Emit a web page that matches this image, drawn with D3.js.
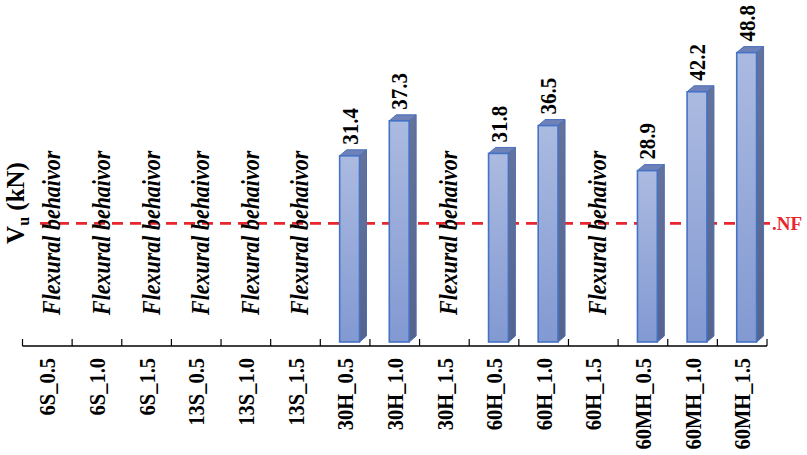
<!DOCTYPE html>
<html>
<head>
<meta charset="utf-8">
<script src="https://cdn.jsdelivr.net/npm/d3@7/dist/d3.min.js"></script>
<style>
  html, body { margin: 0; padding: 0; background: #fff; }
  svg { display: block; }
  text { font-family: "Liberation Serif", "Times New Roman", serif; font-weight: bold; }
</style>
</head>
<body>
<svg id="chart" width="807" height="455"></svg>
<script>
// Specimens on the x axis
const categories = ["6S_0.5", "6S_1.0", "6S_1.5", "13S_0.5", "13S_1.0", "13S_1.5",
  "30H_0.5", "30H_1.0", "30H_1.5", "60H_0.5", "60H_1.0", "60H_1.5",
  "60MH_0.5", "60MH_1.0", "60MH_1.5"];
// Ultimate shear Vu (kN); null = flexural behaviour (no shear failure)
const values = [null, null, null, null, null, null,
  31.4, 37.3, null, 31.8, 36.5, null,
  28.9, 42.2, 48.8];
// Nominal flexural capacity reference line
const nfValue = 20;
const nfLabel = ".NF";
const flexLabel = "Flexural behaivor";

const svg = d3.select("#chart");

const x = d3.scaleBand().domain(categories).range([22.5, 767]).padding(0);
const y = d3.scaleLinear().domain([0, 50]).range([342, 45.5]);
const bw = x.bandwidth();

const defs = svg.append("defs");
const gFront = defs.append("linearGradient").attr("id", "front")
  .attr("x1", 0).attr("y1", 0).attr("x2", 0).attr("y2", 1);
gFront.append("stop").attr("offset", "0%").attr("stop-color", "#abbae0");
gFront.append("stop").attr("offset", "100%").attr("stop-color", "#8299d2");
const gSide = defs.append("linearGradient").attr("id", "side")
  .attr("x1", 0).attr("y1", 0).attr("x2", 0).attr("y2", 1);
gSide.append("stop").attr("offset", "0%").attr("stop-color", "#65739a");
gSide.append("stop").attr("offset", "100%").attr("stop-color", "#56648c");

// 3D bar geometry relative to each band
const frontOff = bw * 0.39, frontW = bw * 0.40, depthX = 7, depthY = 6;
// rotated labels use slightly taller glyphs
const stretch = "scale(1,1.1)";

const data = categories.map((c, i) => ({ c, v: values[i] }));
const bars = data.filter(d => d.v !== null);

// NF dashed reference line (drawn behind bars)
svg.append("line")
  .attr("x1", 40).attr("x2", 770)
  .attr("y1", y(nfValue)).attr("y2", y(nfValue))
  .attr("stroke", "#e8262e").attr("stroke-width", 2.6)
  .attr("stroke-dasharray", "11,7");

const bg = svg.append("g");
bars.forEach(d => {
  const x0 = x(d.c) + frontOff, x1 = x0 + frontW;
  const yt = y(d.v), yb = y(0);
  // side face
  bg.append("path")
    .attr("d", `M${x1},${yt} L${x1 + depthX},${yt - depthY} L${x1 + depthX},${yb - depthY} L${x1},${yb} Z`)
    .attr("fill", "url(#side)").attr("stroke", "#4a6fb8").attr("stroke-width", 1);
  // top face
  bg.append("path")
    .attr("d", `M${x0},${yt} L${x0 + depthX},${yt - depthY} L${x1 + depthX},${yt - depthY} L${x1},${yt} Z`)
    .attr("fill", "#6e82b9").attr("stroke", "#4a6fb8").attr("stroke-width", 1);
  // front face
  bg.append("rect")
    .attr("x", x0).attr("y", yt).attr("width", frontW).attr("height", yb - yt)
    .attr("fill", "url(#front)").attr("stroke", "#4472c4").attr("stroke-width", 1.6);
  // value label
  svg.append("text")
    .attr("transform", `translate(${x0 + frontW / 2},${yt - 11}) rotate(-90) ${stretch}`)
    .attr("dy", "0.35em")
    .attr("font-size", 21)
    .attr("fill", "#000")
    .text(d.v.toFixed(1));
});

// Flexural behaviour notes
data.filter(d => d.v === null).forEach(d => {
  svg.append("text")
    .attr("transform", `translate(${x(d.c) + bw * 0.6},315) rotate(-90) ${stretch}`)
    .attr("dy", "0.33em")
    .attr("font-size", 22)
    .attr("font-style", "italic")
    .attr("fill", "#000")
    .text(flexLabel);
});

// x axis with ticks pointing up
const axisY = 346;
const axis = svg.append("g").attr("transform", `translate(0,${axisY})`);
axis.append("line").attr("x1", 22.5).attr("x2", 767).attr("y1", 0).attr("y2", 0)
  .attr("stroke", "#000").attr("stroke-width", 1.4);
const edges = categories.map(c => x(c)).concat([x.range()[1]]);
axis.selectAll("line.tick").data(edges).join("line").attr("class", "tick")
  .attr("x1", d => d).attr("x2", d => d).attr("y1", 0).attr("y2", -7)
  .attr("stroke", "#000").attr("stroke-width", 1.2);
axis.selectAll("text.lab").data(categories).join("text").attr("class", "lab")
  .attr("transform", d => `translate(${x(d) + bw / 2},${358 - axisY}) rotate(-90) ${stretch}`)
  .attr("text-anchor", "end")
  .attr("dy", "0.36em")
  .attr("font-size", 20.5)
  .attr("fill", "#000")
  .text(d => d);

// NF label
svg.append("text")
  .attr("x", 772).attr("y", y(nfValue) + 6.5)
  .attr("font-size", 19)
  .attr("fill", "#e8262e")
  .text(nfLabel);

// y axis title
const yt = svg.append("text")
  .attr("transform", "translate(24,203) rotate(-90)")
  .attr("text-anchor", "middle")
  .attr("font-size", 25)
  .attr("fill", "#000");
yt.append("tspan").text("V");
yt.append("tspan").attr("dy", 5).attr("font-size", 16).text("u");
yt.append("tspan").attr("dy", -5).text(" (kN)");
</script>
</body>
</html>
